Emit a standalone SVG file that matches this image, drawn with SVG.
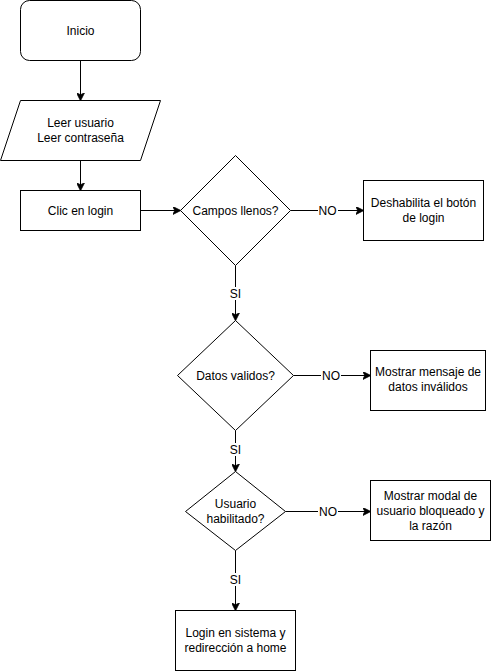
<svg xmlns="http://www.w3.org/2000/svg" width="491" height="671" viewBox="0 0 491 671">
  <style>
    .shape { fill: #ffffff; stroke: #000000; stroke-width: 1; }
    .edge { fill: none; stroke: #000000; stroke-width: 1; }
    .label { font-family: "Liberation Sans", Arial, sans-serif; font-size: 12px; fill: #000000; text-anchor: middle; dominant-baseline: central; }
    .bg { fill: #ffffff; stroke: none; }
  </style>
  <defs>
    <marker id="arrow" viewBox="0 0 10 10" refX="9" refY="5" markerWidth="8" markerHeight="8" markerUnits="userSpaceOnUse" orient="auto">
      <path d="M0,0 L10,5 L0,10 L2.5,5 Z" fill="#000000" stroke="#000000" stroke-width="1"/>
    </marker>
  </defs>
  <rect width="491" height="671" fill="#ffffff"/>

  <g id="connectors">
    <path class="edge" d="M80.5,60.5 L80.5,100" marker-end="url(#arrow)"/>
    <path class="edge" d="M80.5,160.5 L80.5,190" marker-end="url(#arrow)"/>
    <path class="edge" d="M140.5,210.5 L180,210.5" marker-end="url(#arrow)"/>
    <path class="edge" d="M290.5,210.5 L363,210.5" marker-end="url(#arrow)"/>
    <path class="edge" d="M235.5,265.5 L235.5,320" marker-end="url(#arrow)"/>
    <path class="edge" d="M293.5,375.5 L370,375.5" marker-end="url(#arrow)"/>
    <path class="edge" d="M235.5,430.5 L235.5,471" marker-end="url(#arrow)"/>
    <path class="edge" d="M285.5,511.5 L370,511.5" marker-end="url(#arrow)"/>
    <path class="edge" d="M235.5,550.5 L235.5,610" marker-end="url(#arrow)"/>
    <!-- edge labels -->
    <rect class="bg" x="318" y="204" width="20" height="13"/>
    <text class="label" x="327.5" y="211">NO</text>
    <rect class="bg" x="228" y="287" width="15" height="13"/>
    <text class="label" x="235.5" y="293.5">SI</text>
    <rect class="bg" x="321" y="369" width="20" height="13"/>
    <text class="label" x="331" y="376">NO</text>
    <rect class="bg" x="228" y="443" width="15" height="13"/>
    <text class="label" x="235.5" y="449.5">SI</text>
    <rect class="bg" x="318" y="505" width="20" height="13"/>
    <text class="label" x="328" y="511.5">NO</text>
    <rect class="bg" x="228" y="573" width="15" height="13"/>
    <text class="label" x="235.5" y="579.5">SI</text>
  </g>

  <g id="inicio">
    <rect class="shape" x="20.5" y="0.5" width="120" height="60" rx="9" ry="9"/>
    <text class="label" x="80.5" y="30.5">Inicio</text>
  </g>

  <g id="leer">
    <polygon class="shape" points="20.5,100.5 160.5,100.5 140.5,160.5 0.5,160.5"/>
    <text class="label" x="80.5" y="123">Leer usuario</text>
    <text class="label" x="80.5" y="138">Leer contraseña</text>
  </g>

  <g id="clic">
    <rect class="shape" x="20.5" y="190.5" width="120" height="40"/>
    <text class="label" x="80.5" y="210.5">Clic en login</text>
  </g>

  <g id="campos">
    <polygon class="shape" points="235.5,155.5 290.5,210.5 235.5,265.5 180.5,210.5"/>
    <text class="label" x="235.5" y="210.5">Campos llenos?</text>
  </g>

  <g id="deshabilita">
    <rect class="shape" x="363.5" y="180.5" width="120" height="60"/>
    <text class="label" x="423.5" y="203">Deshabilita el botón</text>
    <text class="label" x="423.5" y="218">de login</text>
  </g>

  <g id="datos">
    <polygon class="shape" points="235.5,320.5 293.5,375.5 235.5,430.5 177.5,375.5"/>
    <text class="label" x="235.5" y="375.5">Datos validos?</text>
  </g>

  <g id="mensaje">
    <rect class="shape" x="370.5" y="350.5" width="115" height="60"/>
    <text class="label" x="428" y="372">Mostrar mensaje de</text>
    <text class="label" x="428" y="387">datos inválidos</text>
  </g>

  <g id="habilitado">
    <polygon class="shape" points="235.5,471.5 285.5,511.5 235.5,550.5 185.5,511.5"/>
    <text class="label" x="235.5" y="503.5">Usuario</text>
    <text class="label" x="235.5" y="518.5">habilitado?</text>
  </g>

  <g id="modal">
    <rect class="shape" x="370.5" y="480.5" width="120" height="60"/>
    <text class="label" x="430.5" y="495.5">Mostrar modal de</text>
    <text class="label" x="430.5" y="510.5">usuario bloqueado y</text>
    <text class="label" x="430.5" y="525.5">la razón</text>
  </g>

  <g id="login">
    <rect class="shape" x="175.5" y="610.5" width="120" height="60"/>
    <text class="label" x="235.5" y="633">Login en sistema y</text>
    <text class="label" x="235.5" y="648">redirección a home</text>
  </g>
</svg>
